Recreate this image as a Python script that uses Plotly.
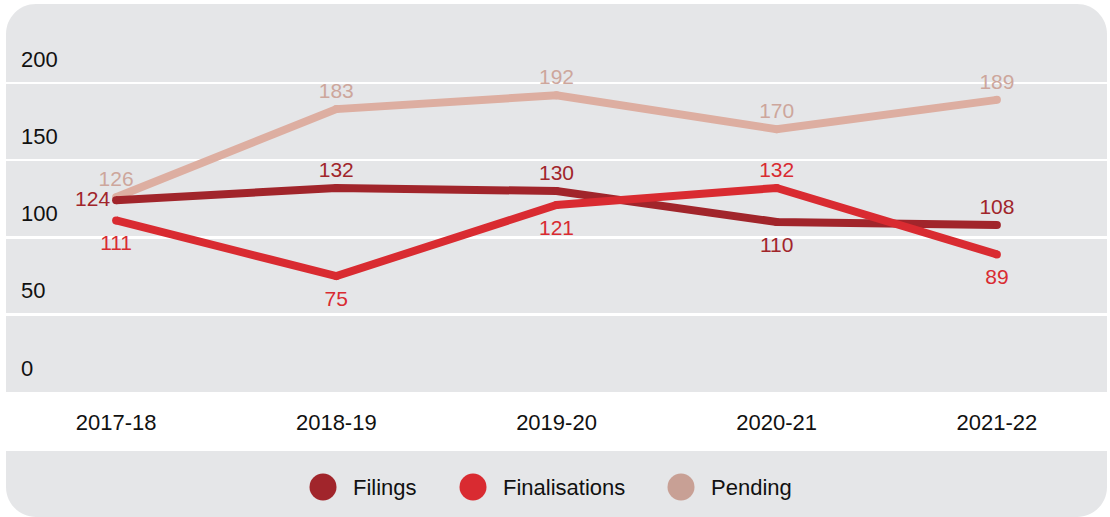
import plotly.graph_objects as go

# ---- data ----
years = ["2017-18", "2018-19", "2019-20", "2020-21", "2021-22"]
filings = [124, 132, 130, 110, 108]
finalisations = [111, 75, 121, 132, 89]
pending = [126, 183, 192, 170, 189]
y_ticks = [0, 50, 100, 150, 200]
series_names = ["Filings", "Finalisations", "Pending"]

# label placement per point
pos_pending = ["top center"] * 5
pos_filings = ["middle left", "top center", "top center", "bottom center", "top center"]
pos_final = ["bottom center", "bottom center", "bottom center", "top center", "bottom center"]

# ---- styles ----
C_FIL = "#a1252b"
C_FIN = "#d92b31"
C_PEN_LINE = "#ddaea1"
C_PEN_LAB = "#cda69c"
C_PEN_LEG = "#c8a095"
GRAY = "#e5e6e8"
FONT = "Liberation Sans, Arial, sans-serif"

W, H = 1110, 517
L, R, T, B = 6, 3, 4, 125
PW, PH = W - L - R, H - T - B


def px2p(x, y):
    return (x - L) / PW, (T + PH - y) / PH


def path(points):
    out = []
    for cmd, pts in points:
        s = " ".join("%.5f,%.5f" % px2p(*p) for p in pts)
        out.append(cmd + s)
    return " ".join(out) + " Z"


k = 0.5523
r = 30
x0c, x1c = 6, 1107
top_card = path([
    ("M", [(x0c, 392)]),
    ("L", [(x0c, 4 + r)]),
    ("C", [(x0c, 4 + r - k * r), (x0c + r - k * r, 4), (x0c + r, 4)]),
    ("L", [(x1c - r, 4)]),
    ("C", [(x1c - r + k * r, 4), (x1c, 4 + r - k * r), (x1c, 4 + r)]),
    ("L", [(x1c, 392)]),
])
yb0, yb1 = 451, 517
bot_card = path([
    ("M", [(x0c, yb0)]),
    ("L", [(x1c, yb0)]),
    ("L", [(x1c, yb1 - r)]),
    ("C", [(x1c, yb1 - r + k * r), (x1c - r + k * r, yb1), (x1c - r, yb1)]),
    ("L", [(x0c + r, yb1)]),
    ("C", [(x0c + r - k * r, yb1), (x0c, yb1 - r + k * r), (x0c, yb1 - r)]),
])

fig = go.Figure()


def add_series(vals, color, lab_color, positions, name):
    fig.add_trace(go.Scatter(
        x=years, y=vals, name=name, mode="lines+markers",
        line=dict(color=color, width=8),
        marker=dict(color=color, size=8, line=dict(width=0)),
        showlegend=False, hoverinfo="skip", cliponaxis=False,
    ))
    sizes = [21 if p.startswith("bottom") else 8 for p in positions]
    fig.add_trace(go.Scatter(
        x=years, y=vals, name=name + " labels", mode="markers+text",
        marker=dict(color=color, size=sizes, opacity=0, line=dict(width=0)),
        text=[str(v) for v in vals],
        textposition=positions,
        textfont=dict(family=FONT, size=21, color=lab_color),
        showlegend=False, hoverinfo="skip", cliponaxis=False,
    ))


add_series(pending, C_PEN_LINE, C_PEN_LAB, pos_pending, series_names[2])
add_series(filings, C_FIL, C_FIL, pos_filings, series_names[0])
add_series(finalisations, C_FIN, C_FIN, pos_final, series_names[1])

shapes = [
    dict(type="path", path=top_card, xref="paper", yref="paper",
         fillcolor=GRAY, line=dict(width=0), layer="below"),
    dict(type="path", path=bot_card, xref="paper", yref="paper",
         fillcolor=GRAY, line=dict(width=0), layer="below"),
]

# manual legend
leg_colors = [C_FIL, C_FIN, C_PEN_LEG]
leg_cx = [323, 473, 681]
leg_cy = 487
rad = 13.5
annotations = []
for nm, col, cx in zip(series_names, leg_colors, leg_cx):
    xa, ya = px2p(cx - rad, leg_cy + rad)
    xb, yb = px2p(cx + rad, leg_cy - rad)
    shapes.append(dict(type="circle", xref="paper", yref="paper",
                       x0=xa, y0=ya, x1=xb, y1=yb,
                       fillcolor=col, line=dict(width=0)))
    tx, ty = px2p(cx + rad + 14, leg_cy)
    annotations.append(dict(text=nm, x=tx, y=ty, xref="paper", yref="paper",
                            xanchor="left", yanchor="middle", showarrow=False,
                            font=dict(family=FONT, size=22, color="#111111")))

fig.update_layout(
    width=W, height=H,
    margin=dict(l=L, r=R, t=T, b=B, pad=0),
    paper_bgcolor="white", plot_bgcolor="rgba(0,0,0,0)",
    shapes=shapes, annotations=annotations,
    showlegend=False, hovermode=False,
    font=dict(family=FONT, color="#111111"),
)
fig.update_xaxes(
    type="category", range=[-0.5, 4.5], showgrid=False, zeroline=False,
    showline=False, ticks="outside", ticklen=11, tickcolor="rgba(0,0,0,0)",
    tickfont=dict(family=FONT, size=22, color="#111111"),
)
fig.update_yaxes(
    range=[0, 251], tickvals=y_ticks, ticktext=[str(v) for v in y_ticks],
    showgrid=True, gridcolor="white", gridwidth=2.5, zeroline=False,
    showline=False, ticklabelposition="inside", ticklabelshift=-24,
    ticklabelstandoff=12,
    tickfont=dict(family=FONT, size=22, color="#111111"),
)

fig.write_html("out.html",
               config={"displayModeBar": False, "staticPlot": True},
               post_script="document.body.style.margin='0';document.body.style.padding='0';")
